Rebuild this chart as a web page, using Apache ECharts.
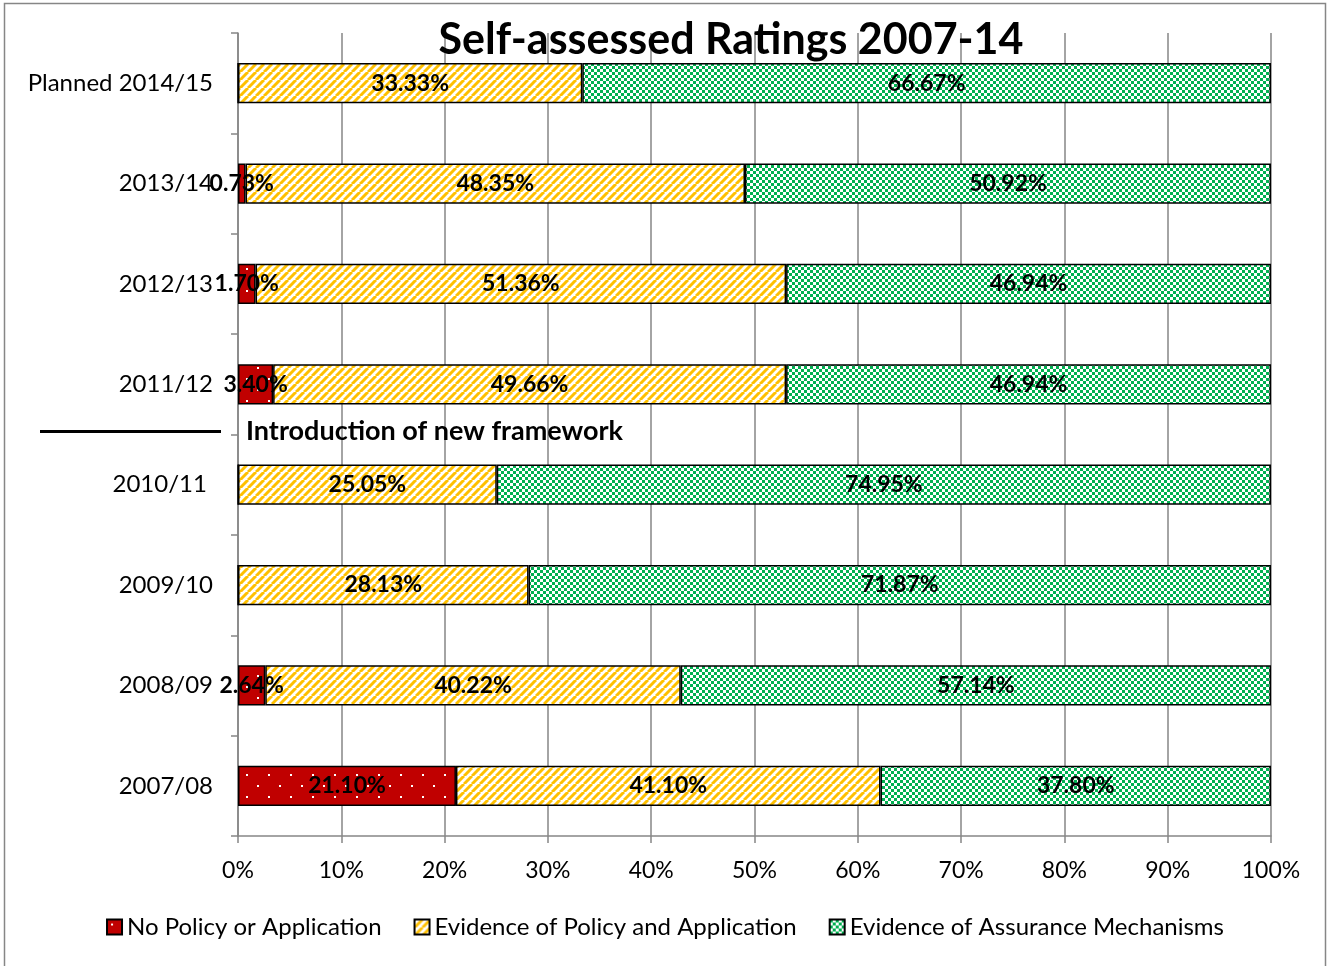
<!DOCTYPE html>
<html>
<head>
<meta charset="utf-8">
<script src="https://cdn.jsdelivr.net/npm/echarts@6/dist/echarts.min.js"></script>
<style>
  html, body { margin: 0; padding: 0; background: #fff; }
  #chart { width: 1330px; height: 966px; }
</style>
</head>
<body>
<div id="chart"></div>
<script>
// categories from bottom to top
const years = ['2007/08', '2008/09', '2009/10', '2010/11 ', '2011/12', '2012/13', '2013/14', 'Planned 2014/15'];
const noPolicy = [21.10, 2.64, 0, 0, 3.40, 1.70, 0.73, 0];
const policyApplied = [41.10, 40.22, 28.13, 25.05, 49.66, 51.36, 48.35, 33.33];
const assurance = [37.80, 57.14, 71.87, 74.95, 46.94, 46.94, 50.92, 66.67];
const xTicks = [0, 10, 20, 30, 40, 50, 60, 70, 80, 90, 100];
const frameworkNote = 'Introduction of new framework';

const FONT = 'Lato, "Open Sans", sans-serif';

// fill patterns like the excel ones
function dotsPattern() {
    const c = document.createElement('canvas');
    c.width = 22; c.height = 22;
    const g = c.getContext('2d');
    g.fillStyle = '#C00000';
    g.fillRect(0, 0, 22, 22);
    g.fillStyle = '#ffffff';
    g.fillRect(4, 4, 2, 2);
    g.fillRect(15, 15, 2, 2);
    return c;
}
function stripePattern() {
    const c = document.createElement('canvas');
    c.width = 8; c.height = 8;
    const g = c.getContext('2d');
    g.fillStyle = '#ffffff';
    g.fillRect(0, 0, 8, 8);
    g.strokeStyle = '#FFC000';
    g.lineWidth = 3;
    for (let k = -8; k <= 16; k += 8) {
        g.beginPath();
        g.moveTo(k, 8);
        g.lineTo(k + 8, 0);
        g.stroke();
    }
    return c;
}
function checkPattern() {
    const c = document.createElement('canvas');
    c.width = 6; c.height = 6;
    const g = c.getContext('2d');
    g.fillStyle = '#ffffff';
    g.fillRect(0, 0, 6, 6);
    g.fillStyle = '#00B050';
    g.fillRect(0, 0, 3, 3);
    g.fillRect(3, 3, 3, 3);
    return c;
}

const redFill = { image: dotsPattern(), repeat: 'repeat' };
const yellowFill = { image: stripePattern(), repeat: 'repeat' };
const greenFill = { image: checkPattern(), repeat: 'repeat' };

const myChart = echarts.init(document.getElementById('chart'));

function pctLabel(p) {
    return p.value > 0 ? p.value.toFixed(2) + '%' : '';
}

function makeSeries(name, data, fill) {
    return {
        name: name,
        type: 'bar',
        stack: 'Total',
        barWidth: '40%',
        data: data,
        itemStyle: { color: fill, borderColor: '#000', borderWidth: 1.5 },
        label: {
            show: true,
            position: 'inside',
            formatter: pctLabel,
            color: '#000',
            fontFamily: FONT,
            fontWeight: 'bold',
            fontSize: 23
        },
        emphasis: { disabled: true }
    };
}

const option = {
    animation: false,
    title: {
        text: 'Self-assessed Ratings 2007-14',
        left: 726,
        textAlign: 'center',
        top: 14,
        textStyle: { fontFamily: FONT, fontWeight: 'bold', fontSize: 43, color: '#000' }
    },
    legend: {
        bottom: 22,
        left: 'center',
        itemWidth: 15,
        itemHeight: 15,
        itemGap: 32,
        icon: 'rect',
        textStyle: { fontFamily: FONT, fontSize: 24, color: '#000' },
        data: ['No Policy or Application', 'Evidence of Policy and Application', 'Evidence of Assurance Mechanisms']
    },
    grid: { left: 238, right: 59, top: 33, bottom: 130 },
    xAxis: {
        type: 'value',
        min: 0,
        max: 100,
        interval: 10,
        axisLine: { show: true, lineStyle: { color: '#868686', width: 1.5 } },
        axisTick: { show: true, length: 7, lineStyle: { color: '#868686', width: 1.5 } },
        splitLine: { show: true, lineStyle: { color: '#868686', width: 1.5 } },
        axisLabel: {
            formatter: v => xTicks.includes(v) ? v + '%' : '',
            fontFamily: FONT, fontSize: 23, color: '#000', margin: 23
        }
    },
    yAxis: {
        type: 'category',
        data: years,
        axisLine: { show: true, lineStyle: { color: '#868686', width: 1.5 } },
        axisTick: { show: true, length: 7, lineStyle: { color: '#868686', width: 1.5 } },
        axisLabel: { fontFamily: FONT, fontSize: 24, color: '#000', margin: 25 }
    },
    series: [
        makeSeries('No Policy or Application', noPolicy, redFill),
        makeSeries('Evidence of Policy and Application', policyApplied, yellowFill),
        makeSeries('Evidence of Assurance Mechanisms', assurance, greenFill)
    ]
};
myChart.setOption(option);

// annotation between 2010/11 and 2011/12, plus outer frame
const yA = myChart.convertToPixel({ yAxisIndex: 0 }, years[3]);
const yB = myChart.convertToPixel({ yAxisIndex: 0 }, years[4]);
const yMid = (yA + yB) / 2 - 3;
const x0 = myChart.convertToPixel({ xAxisIndex: 0 }, 0);
myChart.setOption({
    graphic: [
        {
            type: 'rect',
            shape: { x: 4.5, y: 3.5, width: 1321, height: 980 },
            style: { fill: 'none', stroke: '#868686', lineWidth: 1.5 },
            silent: true
        },
        {
            type: 'line',
            shape: { x1: 40, y1: yMid, x2: x0 - 17, y2: yMid },
            style: { stroke: '#000', lineWidth: 3 },
            z: 10
        },
        {
            type: 'text',
            x: x0 + 8,
            y: yMid,
            style: {
                text: frameworkNote,
                fontFamily: FONT,
                fontWeight: 'bold',
                fontSize: 27,
                fill: '#000',
                textVerticalAlign: 'middle'
            },
            z: 10
        }
    ]
});
</script>
</body>
</html>
